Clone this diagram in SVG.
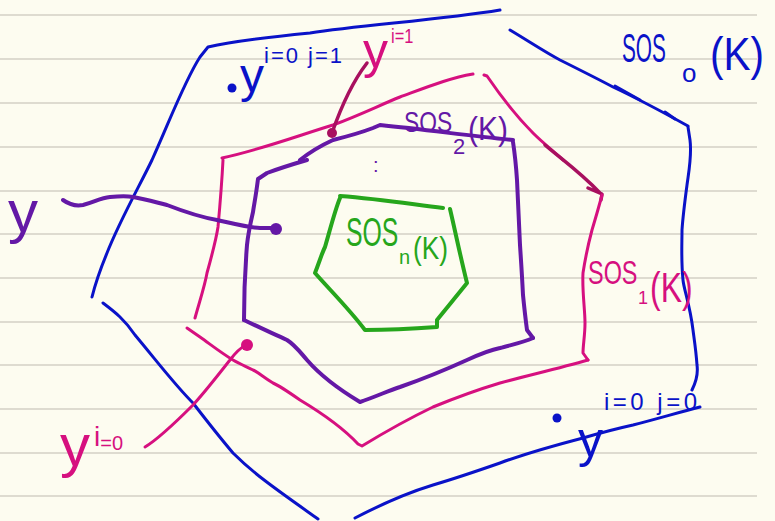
<svg xmlns="http://www.w3.org/2000/svg" width="775" height="521" viewBox="0 0 775 521">
<style>
.rule{stroke:#dedbd0;stroke-width:2}
.s{fill:none;stroke-linecap:round;stroke-linejoin:round}
.blue{stroke:#0a12c8;stroke-width:3}
.mag{stroke:#d6107f;stroke-width:3}
.bur{stroke:#a8105f;stroke-width:3.5}
.pur{stroke:#6418a6;stroke-width:4}
.grn{stroke:#26a61c;stroke-width:4}
text{font-family:"Liberation Sans",Arial,sans-serif}
.tb{fill:#0a12c8}.tm{fill:#d6107f}.tp{fill:#6418a6}.tg{fill:#26a61c}
</style>
<rect width="775" height="521" fill="#fdfcf0"/>
<g id="ruling">
<line class="rule" x1="0" y1="15" x2="757" y2="15"/>
<line class="rule" x1="0" y1="59" x2="757" y2="59"/>
<line class="rule" x1="0" y1="103" x2="757" y2="103"/>
<line class="rule" x1="0" y1="147" x2="757" y2="147"/>
<line class="rule" x1="0" y1="191" x2="757" y2="191"/>
<line class="rule" x1="0" y1="234" x2="757" y2="234"/>
<line class="rule" x1="0" y1="278" x2="757" y2="278"/>
<line class="rule" x1="0" y1="322" x2="757" y2="322"/>
<line class="rule" x1="0" y1="365" x2="757" y2="365"/>
<line class="rule" x1="0" y1="409" x2="757" y2="409"/>
<line class="rule" x1="0" y1="453" x2="757" y2="453"/>
<line class="rule" x1="0" y1="496" x2="757" y2="496"/>
</g>
<g id="sos0">
<path class="s blue" d="M500,10 C440,20 360,25 310,33 C260,38 230,42 208,47 L200,57 C185,80 170,120 152,160 C140,185 120,220 107,253 C100,270 95,285 92,297"/>
<path class="s blue" d="M103,303 C115,312 125,320 135,335 C160,365 175,385 193,403 C210,425 222,440 233,453 C255,475 280,492 318,519"/>
<path class="s blue" d="M355,518 C380,505 410,492 433,485 C460,477 480,470 500,463 C530,452 560,444 583,438 C600,433 615,429 633,425 C660,418 680,412 700,407"/>
<path class="s blue" d="M692,390 C697,380 698,372 697,365 C696,350 694,338 693,330 C690,305 684,290 683,280 C681,260 682,245 682,230 C683,215 685,200 687,185 C689,170 692,155 690,140 L688,127"/>
<path class="s blue" d="M510,30 C530,42 545,52 560,60 C580,70 600,80 613,87 C630,95 650,105 688,126"/>
<path class="s blue" d="M615,86 L640,100 M665,112 L675,119" stroke-width="5"/>
<text class="tb" font-size="40" transform="translate(622,62) scale(0.52,1)">SOS</text>
<text class="tb" x="682" y="82" font-size="26">o</text>
<text class="tb" font-size="46" transform="translate(710,70) scale(0.88,1)">(K)</text>
</g>
<g id="sos1">
<path class="s mag" d="M195,318 C200,300 205,285 207,273 C212,255 216,240 218,227 C220,205 222,180 223,160"/>
<path class="s mag" d="M222,158 C260,150 300,135 333,125 C360,115 380,105 400,97 C430,86 450,78 473,74"/>
<path class="s mag" d="M484,75 L487,76 C500,95 515,115 533,133 C545,145 555,152 563,160"/>
<path class="s bur" d="M545,145 C560,158 580,172 600,193 M588,188 L602,194 L601,200"/>
<path class="s mag" d="M602,195 C598,210 595,220 592,230 C588,245 585,260 583,273 C582,290 585,310 585,323 C585,335 583,345 583,353 L588,360"/>
<path class="s mag" d="M588,360 C560,368 530,375 500,383 C470,392 455,398 433,407 C410,418 385,432 362,446 L358,444 C345,430 325,415 300,400 C290,393 280,386 273,383 C263,377 258,372 253,370 C245,366 240,364 233,360 C220,352 210,344 200,337 L187,328"/>
<text class="tm" font-size="34" transform="translate(588,284) scale(0.69,1)">SOS</text>
<text class="tm" x="638" y="304" font-size="18">1</text>
<text class="tm" font-size="42" transform="translate(650,302) scale(0.76,1)">(K)</text>
</g>
<g id="sos2">
<path class="s pur" d="M307,160 C290,165 275,170 267,173 L258,179 C256,195 254,205 253,212 C250,225 248,235 247,245 C245,270 244,295 244,320"/>
<path class="s pur" d="M244,320 C258,327 272,333 287,340 C295,345 300,352 307,360 C320,375 340,390 360,402 C375,397 390,390 400,387 C420,380 445,370 467,360 C480,354 490,350 500,348 C510,345 522,343 533,338"/>
<path class="s pur" d="M533,338 L527,330 C525,315 524,305 523,295 C522,275 521,260 520,245 C519,225 518,200 517,180 C516,165 515,155 513,142"/>
<path class="s pur" d="M513,140 C470,136 430,130 380,125 L373,128 C360,133 345,137 333,140 C320,146 310,152 300,160"/>
<text class="tp" font-size="30" transform="translate(404,132) scale(0.76,1)">SOS</text>
<text class="tp" x="453" y="154" font-size="22">2</text>
<text class="tp" font-size="34" transform="translate(468,140) scale(0.88,1)">(K)</text>
<text class="tp" x="373" y="172" font-size="20">:</text>
</g>
<g id="sosn">
<path class="s grn" d="M340,196 C380,199 410,204 443,208 M450,209 C455,230 460,255 467,283 C455,298 445,310 437,320 L437,327 C410,329 390,330 365,330 C350,310 330,290 315,273 C320,260 322,253 325,247 C330,230 335,210 340,198"/>
<text class="tg" font-size="40" transform="translate(346,246) scale(0.62,1)">SOS</text>
<text class="tg" x="399" y="264" font-size="20">n</text>
<text class="tg" font-size="32" transform="translate(413,259) scale(0.82,1)">(K)</text>
</g>
<g id="connectors">
<path class="s pur" d="M63,200 C70,205 78,206 83,205 C95,202 100,198 110,197 C120,196 128,196 133,197 C145,199 155,202 167,205 C185,212 200,217 217,220 C235,224 250,228 260,228 L272,228"/>
<circle cx="276" cy="229" r="6" fill="#6418a6"/>
<path class="s bur" d="M332,133 C340,110 350,85 367,63"/>
<circle cx="332" cy="133" r="5" fill="#a8105f"/>
<path class="s mag" d="M145,447 C160,438 178,420 193,405 C205,392 218,375 230,360 C236,352 240,348 246,345"/>
<circle cx="247" cy="345" r="6" fill="#d6107f"/>
</g>
<g id="label-y-left">
<text class="tp" x="8" y="232" font-size="60">y</text>
</g>
<g id="label-yi1">
<text class="tm" x="363" y="68" font-size="50">y</text>
<text class="tm" x="391" y="43" font-size="20" transform="translate(391,43) scale(0.82,1) translate(-391,-43)">i=1</text>
</g>
<g id="label-yi0">
<text class="tm" x="60" y="466" font-size="60">y</text>
<text class="tm" x="94" y="446" font-size="28">i<tspan font-size="20" dy="4">=0</tspan></text>
</g>
<g id="label-y01">
<circle cx="232" cy="88" r="4.5" fill="#0a12c8"/>
<text class="tb" x="240" y="92" font-size="48">y</text>
<text class="tb" x="264" y="63" font-size="22" letter-spacing="2">i=0 j=1</text>
</g>
<g id="label-y00">
<circle cx="557" cy="418" r="4.5" fill="#0a12c8"/>
<text class="tb" x="578" y="457" font-size="50">y</text>
<text class="tb" x="604" y="410" font-size="24" letter-spacing="3.5">i=0 j=0</text>
</g>
</svg>
